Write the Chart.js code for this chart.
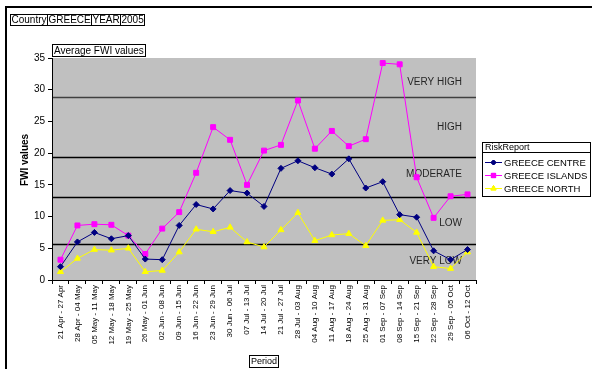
<!DOCTYPE html>
<html>
<head>
<meta charset="utf-8">
<script src="https://cdn.jsdelivr.net/npm/chart.js@4/dist/chart.umd.min.js"></script>
<style>
  html, body { margin: 0; padding: 0; background: #ffffff; }
  canvas { display: block; }
</style>
</head>
<body>
<canvas id="fwi" width="593" height="369"></canvas>
<script>
// Weekly periods of the 2005 fire season
const periods = [
  "21 Apr - 27 Apr", "28 Apr - 04 May", "05 May - 11 May", "12 May - 18 May",
  "19 May - 25 May", "26 May - 01 Jun", "02 Jun - 08 Jun", "09 Jun - 15 Jun",
  "16 Jun - 22 Jun", "23 Jun - 29 Jun", "30 Jun - 06 Jul", "07 Jul - 13 Jul",
  "14 Jul - 20 Jul", "21 Jul - 27 Jul", "28 Jul - 03 Aug", "04 Aug - 10 Aug",
  "11 Aug - 17 Aug", "18 Aug - 24 Aug", "25 Aug - 31 Aug", "01 Sep - 07 Sep",
  "08 Sep - 14 Sep", "15 Sep - 21 Sep", "22 Sep - 28 Sep", "29 Sep - 05 Oct",
  "06 Oct - 12 Oct"
];

// Average FWI per region
const greeceCentre = [2.1, 6.0, 7.5, 6.5, 7.0, 3.3, 3.2, 8.6, 11.9, 11.2, 14.1, 13.7, 11.6,
  17.6, 18.8, 17.7, 16.7, 19.1, 14.5, 15.5, 10.3, 9.9, 4.6, 3.2, 4.8];
const greeceIslands = [3.2, 8.6, 8.8, 8.7, 7.0, 4.1, 8.1, 10.7, 16.9, 24.1, 22.1, 15.0, 20.4,
  21.3, 28.3, 20.7, 23.5, 21.1, 22.2, 34.2, 34.0, 16.2, 9.8, 13.2, 13.5];
const greeceNorth = [1.3, 3.4, 4.8, 4.7, 5.0, 1.3, 1.5, 4.4, 8.0, 7.6, 8.3, 6.0, 5.2,
  7.9, 10.6, 6.2, 7.1, 7.3, 5.4, 9.4, 9.5, 7.5, 2.1, 1.8, 4.4];

// Risk class boundaries and class labels
const riskLimits = [5.7, 13.1, 19.4, 28.9];
const riskClasses = ["VERY LOW", "LOW", "MODERATE", "HIGH", "VERY HIGH"];
const riskLabelLevels = [3.0, 8.9, 16.6, 24.1, 31.2];

// Y axis range
const yMin = 0, yMax = 35, yStep = 5;

const FONT = "'Liberation Sans', Arial, sans-serif";

function boxText(ctx, text, x, y, h, font, pad) {
  ctx.font = font;
  const w = Math.round(ctx.measureText(text).width + 2 * pad);
  ctx.fillStyle = "#ffffff";
  ctx.fillRect(x, y, w, h);
  ctx.strokeStyle = "#000000";
  ctx.lineWidth = 1;
  ctx.strokeRect(x + 0.5, y + 0.5, w - 1, h - 1);
  ctx.fillStyle = "#000000";
  ctx.textAlign = "left";
  ctx.textBaseline = "middle";
  ctx.fillText(text, x + pad, y + h / 2 + 0.5);
  return w;
}

const pivotDecor = {
  id: "pivotDecor",
  beforeDraw(chart) {
    const { ctx, chartArea: a } = chart;
    ctx.save();
    ctx.fillStyle = "#c0c0c0";
    ctx.fillRect(a.left, a.top, a.right - a.left, a.bottom - a.top);
    const y = chart.scales.y;
    riskLimits.forEach((v, i) => {
      const py = Math.round(y.getPixelForValue(v)) + 0.5;
      ctx.strokeStyle = i === riskLimits.length - 1 ? "#404040" : "#000000";
      ctx.lineWidth = 1.5;
      ctx.beginPath();
      ctx.moveTo(a.left, py);
      ctx.lineTo(a.right, py);
      ctx.stroke();
    });
    ctx.fillStyle = "#262626";
    ctx.font = "10px " + FONT;
    ctx.textAlign = "right";
    ctx.textBaseline = "middle";
    riskClasses.forEach((t, i) => {
      ctx.fillText(t, a.right - 14, y.getPixelForValue(riskLabelLevels[i]));
    });
    ctx.restore();
  },
  afterDraw(chart) {
    const { ctx, chartArea: a } = chart;
    ctx.save();
    // sheet frame
    ctx.fillStyle = "#000000";
    ctx.fillRect(5, 6, 2, 363);
    ctx.fillRect(5, 6, 587, 2);

    // page field buttons
    let x = 10;
    ["Country", "GREECE", "YEAR", "2005"].forEach(t => {
      x += boxText(ctx, t, x, 14, 12, "10px " + FONT, 1.5) - 1;
    });
    boxText(ctx, "Average FWI values", a.left, 44, 13, "10px " + FONT, 2);
    boxText(ctx, "Period", 249, 355, 13, "9px " + FONT, 2);

    // y axis title
    ctx.save();
    ctx.translate(25, 160);
    ctx.rotate(-Math.PI / 2);
    ctx.font = "bold 10px " + FONT;
    ctx.fillStyle = "#000000";
    ctx.textAlign = "center";
    ctx.textBaseline = "middle";
    ctx.fillText("FWI values", 0, 0);
    ctx.restore();

    // legend
    const lx = 482, ly = 142, lw = 109, lh = 55;
    ctx.fillStyle = "#ffffff";
    ctx.fillRect(lx, ly, lw, lh);
    ctx.strokeStyle = "#000000";
    ctx.lineWidth = 1;
    ctx.strokeRect(lx + 0.5, ly + 0.5, lw - 1, lh - 1);
    ctx.beginPath();
    ctx.moveTo(lx, ly + 10.5);
    ctx.lineTo(lx + lw, ly + 10.5);
    ctx.stroke();
    ctx.fillStyle = "#000000";
    ctx.font = "9px " + FONT;
    ctx.textAlign = "left";
    ctx.textBaseline = "middle";
    ctx.fillText("RiskReport", lx + 3, ly + 6);
    chart.data.datasets.forEach((ds, i) => {
      const cy = ly + 20 + i * 13;
      ctx.strokeStyle = ds.borderColor;
      ctx.lineWidth = 1;
      ctx.beginPath();
      ctx.moveTo(lx + 3, cy + 0.5);
      ctx.lineTo(lx + 20, cy + 0.5);
      ctx.stroke();
      Chart.helpers.drawPoint(ctx, {
        pointStyle: ds.pointStyle, radius: ds.pointRadius - 0.5, rotation: 0,
        borderWidth: 1
      }, lx + 11.5, cy + 0.5);
      ctx.fillStyle = ds.pointBackgroundColor;
      ctx.strokeStyle = ds.pointBorderColor;
      ctx.fill();
      ctx.stroke();
      ctx.fillStyle = "#000000";
      ctx.font = "9.5px " + FONT;
      ctx.fillText(ds.label, lx + 22, cy + 1);
    });
    ctx.restore();
  }
};

function series(label, data, color, style, radius) {
  return {
    label, data,
    borderColor: color, backgroundColor: color,
    pointBackgroundColor: color, pointBorderColor: color,
    pointStyle: style, pointRadius: radius, pointHoverRadius: radius,
    borderWidth: 1, tension: 0
  };
}

new Chart(document.getElementById("fwi"), {
  type: "line",
  data: {
    labels: periods,
    datasets: [
      series("GREECE CENTRE", greeceCentre, "#000080", "rectRot", 3),
      series("GREECE ISLANDS", greeceIslands, "#ff00ff", "rect", 3.5),
      series("GREECE NORTH", greeceNorth, "#ffff00", "triangle", 3.5)
    ]
  },
  options: {
    responsive: false,
    animation: false,
    devicePixelRatio: 1,
    layout: { padding: { top: 58, right: 117, left: 0, bottom: 0 } },
    plugins: { legend: { display: false }, title: { display: false }, tooltip: { enabled: false } },
    scales: {
      x: {
        offset: true,
        afterFit: s => { s.height = 89; },
        border: { color: "#000000", width: 1 },
        grid: { drawOnChartArea: false, drawTicks: true, tickLength: 4, color: "#000000", offset: true },
        ticks: {
          autoSkip: false, maxRotation: 90, minRotation: 90, padding: 1,
          color: "#000000", font: { family: FONT, size: 8 }
        }
      },
      y: {
        min: yMin, max: yMax,
        afterFit: s => { s.width = 52; },
        border: { color: "#000000", width: 1 },
        grid: { drawOnChartArea: false, drawTicks: true, tickLength: 4, color: "#000000" },
        ticks: { stepSize: yStep, padding: 3, color: "#000000", font: { family: FONT, size: 10 } }
      }
    }
  },
  plugins: [pivotDecor]
});
</script>
</body>
</html>
